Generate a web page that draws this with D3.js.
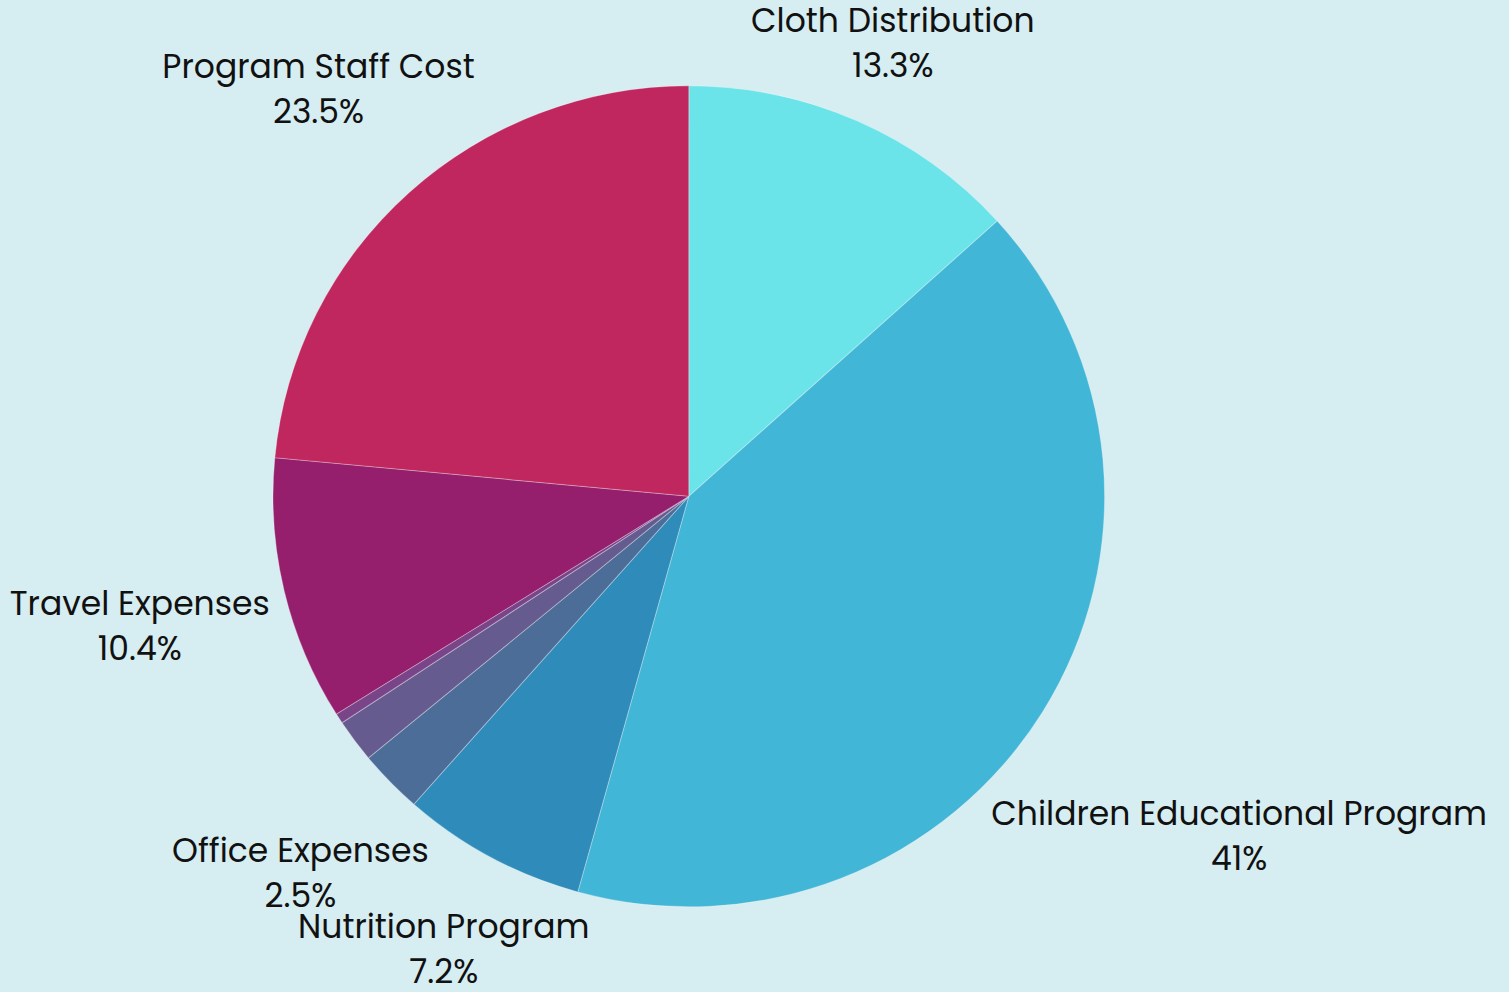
<!DOCTYPE html>
<html>
<head>
<meta charset="utf-8">
<script src="https://cdn.jsdelivr.net/npm/d3@7"></script>
<style>
  html, body { margin: 0; padding: 0; background: #d6edf1; }
  svg { display: block; }
</style>
</head>
<body>
<svg id="chart" width="1509" height="992"></svg>
<script>
// ---- data ----
const categories = ["Cloth Distribution", "Children Educational Program", "Nutrition Program", "Office Expenses", "Other A", "Other B", "Travel Expenses", "Program Staff Cost"];
const values = [13.3, 41, 7.2, 2.5, 1.7, 0.4, 10.4, 23.5];
const valueLabels = ["13.3%", "41%", "7.2%", "2.5%", "1.7%", "0.4%", "10.4%", "23.5%"];
const colors = ["#6ae4e8", "#42b6d6", "#2e8bba", "#4c6d98", "#665b8f", "#7a4488", "#951f6d", "#c0275e"];

const W = 1509, H = 992;
const cx = 688.8, cy = 496.3, R = 410.5, sx = 415.8 / 410.5;
const fontSize = 33, lineGap = 45, labelClear = 430, minLabelValue = 2, minTop = 9;

const data = categories.map((c, i) => ({ name: c, value: values[i], label: valueLabels[i], color: colors[i] }));

const svg = d3.select("#chart");
svg.append("rect").attr("width", W).attr("height", H).attr("fill", "#d6edf1");

const pie = d3.pie().value(d => d.value).sort(null);
const arc = d3.arc().innerRadius(0).outerRadius(R);
const arcs = pie(data);

const g = svg.append("g").attr("transform", `translate(${cx},${cy})`);
g.append("g").attr("transform", `scale(${sx},1)`)
  .selectAll("path").data(arcs).join("path")
  .attr("d", arc)
  .attr("fill", d => d.data.color)
  .attr("stroke", "rgba(255,255,255,0.3)")
  .attr("stroke-width", 1);

function boxDist(x0, y0, x1, y1) {
  const dx = Math.max(x0, 0, -x1), dy = Math.max(y0, 0, -y1);
  return Math.hypot(dx, dy);
}

const labels = g.selectAll("g.lbl").data(arcs.filter(a => a.data.value >= minLabelValue)).join("g").attr("class", "lbl");
labels.each(function(a) {
  const sel = d3.select(this);
  const t = sel.append("text")
    .attr("text-anchor", "middle")
    .attr("font-family", "Poppins, 'Open Sans', sans-serif")
    .attr("font-size", fontSize)
    .attr("fill", "#111");
  t.append("tspan").attr("x", 0).attr("y", 0).text(a.data.name);
  t.append("tspan").attr("x", 0).attr("y", lineGap).text(a.data.label);
  const bw = t.node().getBBox().width;
  const top = -0.7 * fontSize, bottom = lineGap;
  const bh = bottom - top;
  const mid = (a.startAngle + a.endAngle) / 2;
  const s = Math.sin(mid), c = -Math.cos(mid);
  // find distance along mid-angle so nearest box point clears labelClear
  let lo = 0, hi = 2000;
  for (let k = 0; k < 60; k++) {
    const tt = (lo + hi) / 2;
    const px = tt * s, py = tt * c;
    const d = boxDist(px - bw / 2, py - bh / 2, px + bw / 2, py + bh / 2);
    if (d < labelClear) lo = tt; else hi = tt;
  }
  const px = lo * s;
  let boxTop = lo * c - bh / 2;
  if (cy + boxTop < minTop) boxTop = minTop - cy;
  sel.attr("transform", `translate(${px},${boxTop - top})`);
});
</script>
</body>
</html>
